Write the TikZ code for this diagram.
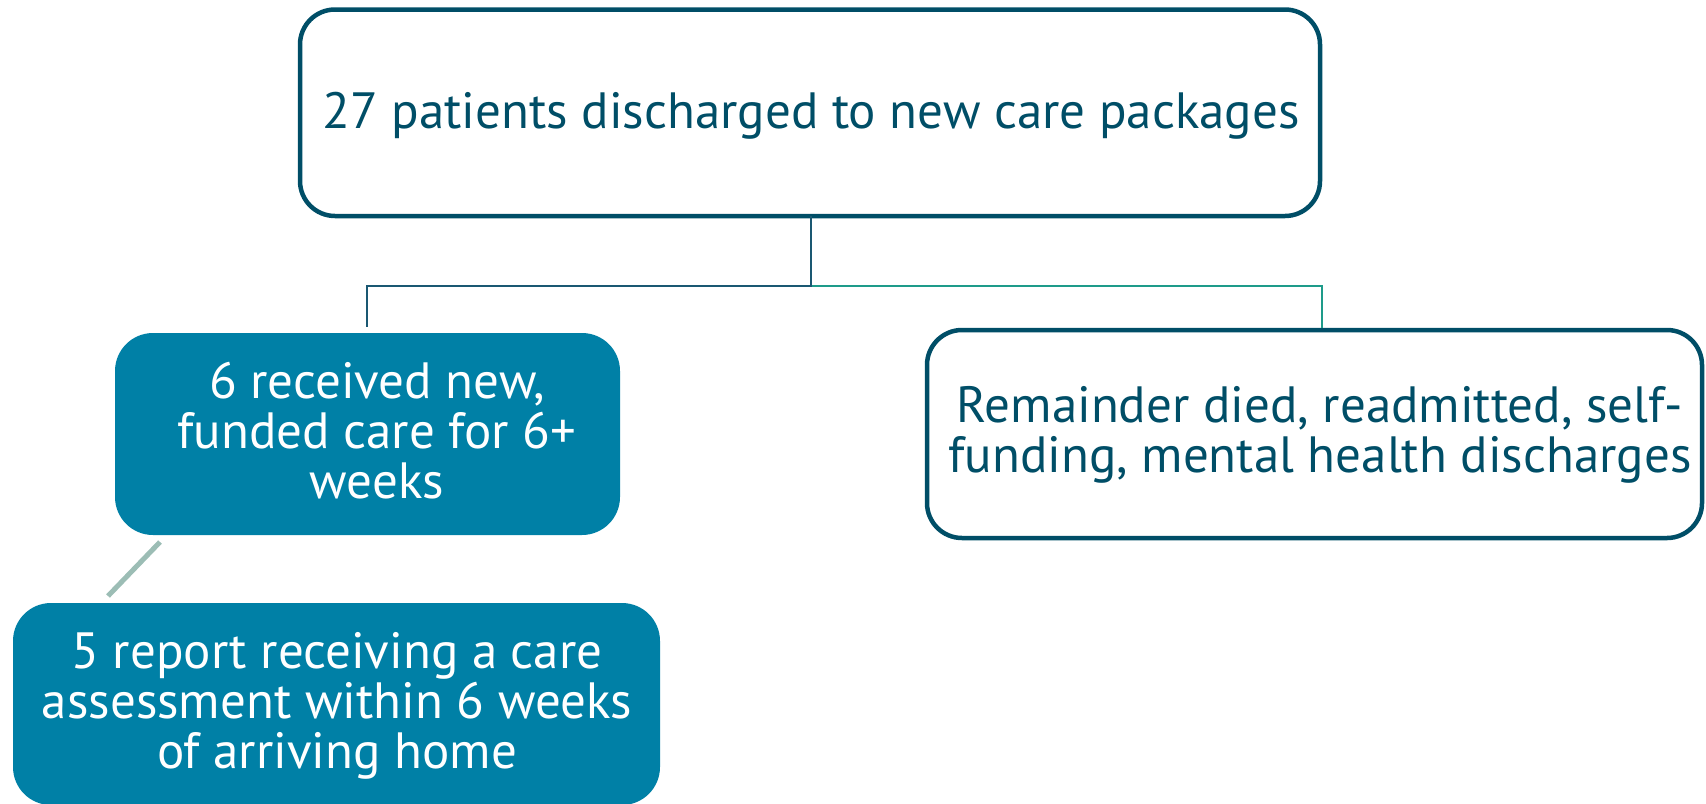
\documentclass[tikz,border=0pt]{standalone}
\usepackage{fontspec}
\setmainfont{PT Sans}
\definecolor{dk}{HTML}{004E67}
\definecolor{tealf}{HTML}{0080A6}
\definecolor{lnL}{HTML}{1A5872}
\definecolor{lnR}{HTML}{1E9B8A}
\definecolor{diagc}{HTML}{9CBDB5}
\begin{document}
\begin{tikzpicture}[x=0.5pt,y=-0.5pt,
  outline/.style={draw=dk, line width=2.25pt, fill=white, rounded corners=17.5pt, rectangle, inner sep=0pt, outer sep=0pt},
  tealbox/.style={fill=tealf, draw=none, rounded corners=19pt, rectangle, inner sep=0pt, outer sep=0pt},
  dtxt/.style={text=dk, font=\fontsize{25.5}{26}\selectfont, inner sep=0pt, align=center},
  wtxt/.style={text=white, font=\fontsize{25.5}{26}\selectfont, inner sep=0pt, align=center},
  connL/.style={draw=lnL, line width=1pt},
  connR/.style={draw=lnR, line width=1pt},
  diagl/.style={draw=diagc, line width=2.5pt}]
\useasboundingbox (0,0) rectangle (1706,803);
% boxes
\node[outline, minimum width=510pt, minimum height=103.25pt] (top) at (810,112.75) {};
\node[outline, minimum width=387.5pt, minimum height=104pt] (rbox) at (1314.5,434) {};
\node[tealbox, minimum width=252.5pt, minimum height=101pt] (b1) at (367.5,434) {};
\node[tealbox, minimum width=323.5pt, minimum height=101pt] (b2) at (336.5,704) {};
% connector points
\coordinate (hub) at (811,286);
\coordinate (lend) at (367,327);
\coordinate (rend) at (1322,328);
\coordinate (d1) at (160,542);
\coordinate (d2) at (108,596);
\draw[connR] (hub) -| (rend);
\draw[connL] (top.south -| hub) -- (hub) -| (lend);
\draw[diagl] (d1) -- (d2);
% texts
\node[dtxt, anchor=base] (t0) at (811,128) {27 patients discharged to new care packages};
\node[dtxt, anchor=base] (t3a) at (1320,422) {Remainder died, readmitted, self-};
\node[dtxt, anchor=base] (t3b) at (1320,472) {funding, mental health discharges};
\node[wtxt, anchor=base] (t1a) at (377,398) {6 received new,};
\node[wtxt, anchor=base] (t1b) at (377,448) {funded care for 6+};
\node[wtxt, anchor=base] (t1c) at (377,498) {weeks};
\node[wtxt, anchor=base] (t2a) at (337,668) {5 report receiving a care};
\node[wtxt, anchor=base] (t2b) at (337,718) {assessment within 6 weeks};
\node[wtxt, anchor=base] (t2c) at (337,768) {of arriving home};
\end{tikzpicture}
\end{document}
